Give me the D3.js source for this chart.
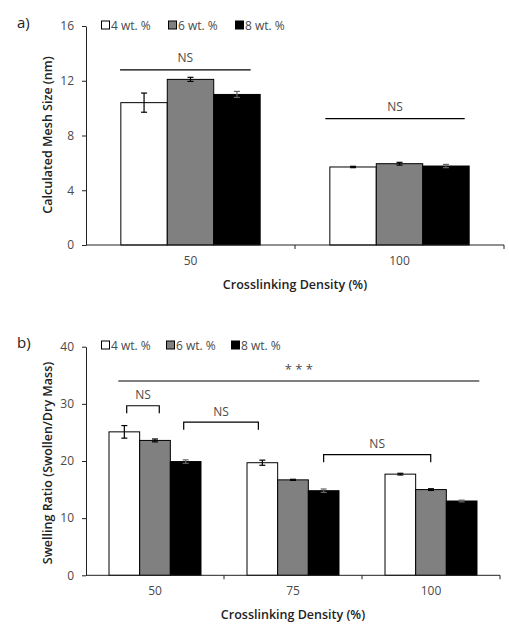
<!DOCTYPE html>
<html><head><meta charset="utf-8">
<script src="https://cdn.jsdelivr.net/npm/d3@7"></script>
<style>
body{margin:0;background:#fff;}
text{font-family:"Open Sans",Lato,sans-serif;}
</style></head>
<body><svg id="c" width="509" height="626"></svg>
<script>
// ---- data ----
const seriesNames = ["4 wt. %", "6 wt. %", "8 wt. %"];
const seriesColors = ["#ffffff", "#808080", "#000000"];

const meshCategories = ["50", "100"];
const mesh4 = [10.4, 5.70];
const mesh6 = [12.1, 5.94];
const mesh8 = [11.0, 5.77];
const meshErr4 = [0.70, 0.05];
const meshErr6 = [0.15, 0.10];
const meshErr8 = [0.22, 0.12];
const meshTicks = [0, 4, 8, 12, 16];
// annotations: [x0, x1 in category units, y value, label]
const meshNS = [[0.163, 0.788, 12.8, "NS"], [1.145, 1.812, 9.23, "NS"]];

const swellCategories = ["50", "75", "100"];
const swell4 = [25.1, 19.7, 17.7];
const swell6 = [23.6, 16.7, 15.0];
const swell8 = [19.9, 14.8, 13.0];
const swellErr4 = [1.1, 0.45, 0.15];
const swellErr6 = [0.25, 0.1, 0.15];
const swellErr8 = [0.3, 0.3, 0.15];
const swellTicks = [0, 10, 20, 30, 40];
const swellBrackets = [[0.295, 0.531, 29.67, "NS"], [0.708, 1.249, 26.8, "NS"], [1.722, 2.498, 21.1, "NS"]];
const swellStars = [[0.234, 2.85, 34.0, "* * *"]];

const svg = d3.select("#c");
const TXT = "#4a4a4a";

function panel(o) {
  const g = svg.append("g");
  const x0 = d3.scaleBand().domain(o.categories).range([o.left, o.right]).padding(0);
  const bw = x0.bandwidth();
  const x1 = d3.scaleBand().domain(seriesNames).range([bw * 0.1667, bw * 0.8333]).padding(0);
  const xc = d3.scaleLinear().domain([0, o.categories.length]).range([o.left, o.right]);
  const y = d3.scaleLinear().domain([0, o.ticks[o.ticks.length - 1]]).range([o.bottom, o.top]);

  const rows = [];
  o.categories.forEach((c, i) => {
    o.values.forEach((vals, s) => rows.push({c, s: seriesNames[s], v: vals[i], e: o.errors[s][i], col: seriesColors[s]}));
  });

  g.selectAll("rect.bar").data(rows).join("rect").attr("class", "bar")
    .attr("x", d => x0(d.c) + x1(d.s)).attr("width", x1.bandwidth())
    .attr("y", d => y(d.v)).attr("height", d => y(0) - y(d.v))
    .attr("fill", d => d.col).attr("stroke", "#000").attr("stroke-width", 1);

  const ec = d => d.s === seriesNames[2] ? "#666" : "#000";
  const eb = g.selectAll("g.err").data(rows).join("g").attr("class", "err")
    .attr("transform", d => `translate(${x0(d.c) + x1(d.s) + x1.bandwidth() / 2},0)`);
  eb.append("line").attr("y1", d => y(d.v + d.e)).attr("y2", d => y(d.v - d.e)).attr("stroke", ec).attr("stroke-width", 1.2);
  [1, -1].forEach(k => eb.append("line").attr("x1", -3).attr("x2", 3)
    .attr("y1", d => y(d.v + k * d.e)).attr("y2", d => y(d.v + k * d.e))
    .attr("stroke", ec).attr("stroke-width", 1.2));

  // y axis
  const ya = g.append("g").attr("transform", `translate(${o.left},0)`)
    .call(d3.axisLeft(y).tickValues(o.ticks).tickSize(4).tickPadding(8).tickSizeOuter(0));
  ya.select(".domain").attr("stroke", "#222");
  ya.selectAll(".tick line").attr("stroke", "#222");
  ya.selectAll("text").attr("font-size", 12).attr("fill", TXT).attr("font-family", "Open Sans");

  // x axis
  const xa = g.append("g").attr("transform", `translate(0,${o.bottom})`)
    .call(d3.axisBottom(x0).tickSize(0).tickPadding(11));
  xa.select(".domain").attr("stroke", "#222").attr("d", `M${o.left},0H${o.right}`);
  xa.selectAll("text").attr("font-size", 12).attr("fill", TXT).attr("font-family", "Open Sans");
  g.selectAll("line.xt").data(d3.range(1, o.categories.length + 1)).join("line").attr("class", "xt")
    .attr("x1", d => xc(d)).attr("x2", d => xc(d)).attr("y1", o.bottom).attr("y2", o.bottom + 4).attr("stroke", "#222");

  // titles
  g.append("text").attr("x", (o.left + o.right) / 2).attr("y", o.bottom + 39).attr("dominant-baseline", "central").attr("text-anchor", "middle")
    .attr("font-size", 12.5).attr("font-weight", 600).attr("fill", "#222").text("Crosslinking Density (%)");
  g.append("text").attr("transform", `translate(${o.ylabX},${o.ylabY}) rotate(-90)`).attr("text-anchor", "middle")
    .attr("dominant-baseline", "central").attr("font-size", 12.5).attr("font-weight", 600).attr("fill", "#222").text(o.ylabel);
  g.append("text").attr("x", 17).attr("y", o.tagY).attr("dominant-baseline", "central").attr("font-size", 15).attr("fill", "#222").text(o.tag);

  // legend
  const lg = g.selectAll("g.leg").data(seriesNames).join("g").attr("class", "leg")
    .attr("transform", (d, i) => `translate(${o.legX[i]},${o.legY})`);
  lg.append("rect").attr("x", 0.5).attr("y", -4).attr("width", 8).attr("height", 8)
    .attr("fill", (d, i) => seriesColors[i]).attr("stroke", "#000");
  lg.append("text").attr("x", 10).attr("dominant-baseline", "central").attr("font-size", 12)
    .attr("fill", TXT).text(d => d);

  // flat lines
  g.selectAll("g.flat").data(o.flat).join("g").attr("class", "flat").each(function (d) {
    const s = d3.select(this);
    s.append("line").attr("x1", xc(d[0])).attr("x2", xc(d[1])).attr("y1", y(d[2])).attr("y2", y(d[2])).attr("stroke", "#000").attr("stroke-width", 1.2);
    s.append("text").attr("x", (xc(d[0]) + xc(d[1])) / 2).attr("y", y(d[2]) - 12).attr("text-anchor", "middle")
      .attr("dominant-baseline", "central").attr("font-size", d[3] === "NS" ? 12 : 13).attr("fill", TXT).text(d[3]);
  });
  // brackets
  g.selectAll("g.br").data(o.brackets).join("g").attr("class", "br").each(function (d) {
    const s = d3.select(this);
    const yy = y(d[2]);
    s.append("path").attr("d", `M${xc(d[0])},${yy + 7.5}V${yy}H${xc(d[1])}V${yy + 7.5}`).attr("fill", "none").attr("stroke", "#000").attr("stroke-width", 1.2);
    s.append("text").attr("x", (xc(d[0]) + xc(d[1])) / 2).attr("y", yy - 11).attr("text-anchor", "middle")
      .attr("dominant-baseline", "central").attr("font-size", 12).attr("fill", TXT).text(d[3]);
  });
}

panel({categories: meshCategories, values: [mesh4, mesh6, mesh8], errors: [meshErr4, meshErr6, meshErr8],
  ticks: meshTicks, left: 86, right: 504, top: 26, bottom: 245, ylabel: "Calculated Mesh Size (nm)",
  ylabX: 47, ylabY: 135, tag: "a)", tagY: 22, legX: [101, 168, 235], legY: 25, flat: meshNS, brackets: []});

panel({categories: swellCategories, values: [swell4, swell6, swell8], errors: [swellErr4, swellErr6, swellErr8],
  ticks: swellTicks, left: 86, right: 500, top: 346.7, bottom: 575.3, ylabel: "Swelling Ratio (Swollen/Dry Mass)",
  ylabX: 47, ylabY: 463, tag: "b)", tagY: 342, legX: [101, 166, 231], legY: 345, flat: swellStars, brackets: swellBrackets});
</script></body></html>
